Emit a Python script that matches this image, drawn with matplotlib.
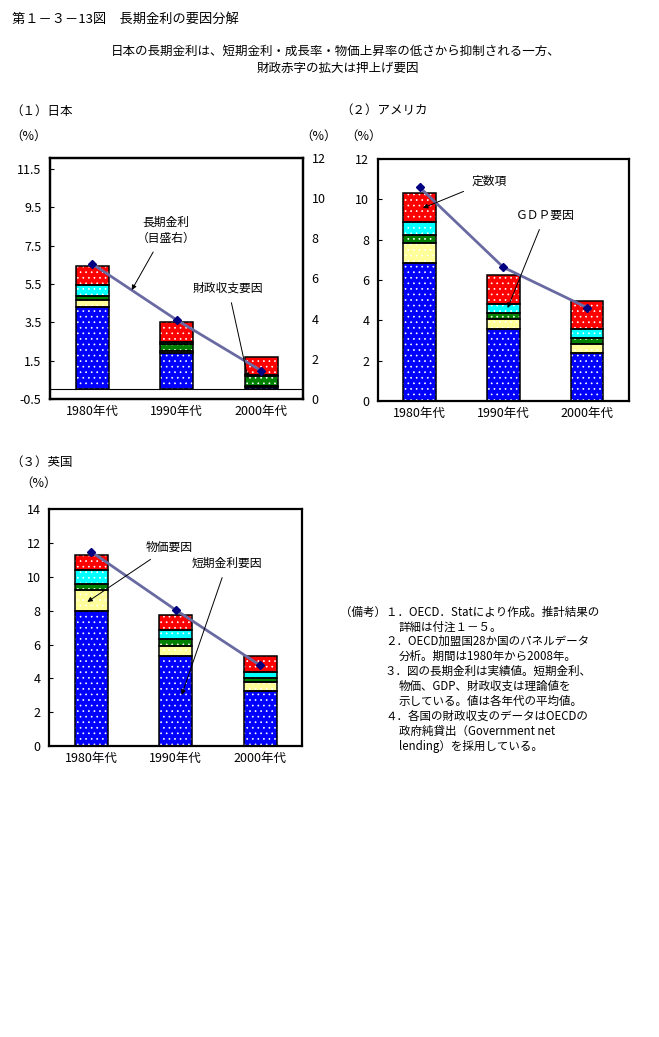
import matplotlib
matplotlib.use("Agg")
import matplotlib.pyplot as plt
import numpy as np

plt.rcParams['font.family'] = ['Noto Sans CJK JP', 'DejaVu Sans']
plt.rcParams['hatch.linewidth'] = 0.5

# ---------------- data ----------------
decades = ["1980年代", "1990年代", "2000年代"]
factor_names = ["短期金利要因", "物価要因", "財政収支要因", "GDP要因", "定数項"]
factor_colors = ["#0000FF", "#FFFF99", "#008000", "#00FFFF", "#FF0000"]

# Japan (left axis) contributions, bottom to top
jp_short = [4.28, 1.88, 0.13]
jp_price = [0.38, 0.10, 0.05]
jp_fiscal = [0.21, 0.37, 0.50]
jp_gdp = [0.56, 0.12, 0.05]
jp_const = [1.00, 1.03, 0.94]
jp_long = [6.72, 3.93, 1.41]   # right axis

us_short = [6.86, 3.55, 2.36]
us_price = [0.96, 0.50, 0.45]
us_fiscal = [0.41, 0.30, 0.30]
us_gdp = [0.63, 0.46, 0.44]
us_const = [1.44, 1.42, 1.39]
us_long = [10.60, 6.63, 4.63]

uk_short = [7.97, 5.30, 3.28]
uk_price = [1.24, 0.63, 0.50]
uk_fiscal = [0.36, 0.40, 0.22]
uk_gdp = [0.83, 0.51, 0.39]
uk_const = [0.91, 0.91, 0.93]
uk_long = [11.49, 8.05, 4.77]

jp_ticks_left = [-0.5, 1.5, 3.5, 5.5, 7.5, 9.5, 11.5]
jp_ticks_right = [0, 2, 4, 6, 8, 10, 12]
us_ticks = [0, 2, 4, 6, 8, 10, 12]
uk_ticks = [0, 2, 4, 6, 8, 10, 12, 14]

W, H = 659, 1037
fig = plt.figure(figsize=(W / 100, H / 100), dpi=100)


def fpos(l, t, r, b):
    return [l / W, 1 - b / H, (r - l) / W, (b - t) / H]


def style_axes(ax):
    for s in ax.spines.values():
        s.set_linewidth(1.6)
        s.set_color("black")
    ax.tick_params(axis='y', direction='in', length=3, width=0.8, labelsize=9, pad=6)
    ax.tick_params(axis='x', length=0, labelsize=9, pad=4)


def draw_bars(ax, comps):
    x = np.arange(len(decades))
    bottom = np.zeros(len(decades))
    for vals, col in zip(comps, factor_colors):
        vals = np.array(vals)
        ax.bar(x, vals, 0.39, bottom=bottom, color=col, edgecolor="white",
               hatch="...", linewidth=0, zorder=2)
        ax.bar(x, vals, 0.39, bottom=bottom, fill=False, edgecolor="black",
               linewidth=1.1, zorder=3)
        bottom = bottom + vals
    ax.set_xticks(x)
    ax.set_xticklabels(decades)
    ax.set_xlim(-0.5, 2.5)


def draw_line(ax, vals):
    ax.plot(np.arange(len(decades)), vals, color="#6A6AA3", lw=2.0, zorder=5,
            marker="D", markersize=4.5, markerfacecolor="#000080",
            markeredgecolor="#000080")


def note(ax, text, xy, xytext):
    ax.annotate(text, xy=xy, xytext=xytext, ha="center", va="center",
                fontsize=8.5, linespacing=1.3,
                arrowprops=dict(arrowstyle="-|>", color="black", lw=0.7,
                                mutation_scale=7, shrinkA=4, shrinkB=0),
                zorder=10)


# ---------------- Japan ----------------
ax1 = fig.add_axes(fpos(50, 157.7, 303.3, 399))
draw_bars(ax1, [jp_short, jp_price, jp_fiscal, jp_gdp, jp_const])
ax1.axhline(0, color="black", lw=0.8, zorder=4)
ax1.set_ylim(-0.5, 12.09)
ax1.set_yticks(jp_ticks_left)
ax1.set_yticklabels([f"{v:.1f}" for v in jp_ticks_left])
style_axes(ax1)
ax1b = ax1.twinx()
ax1b.set_ylim(0, 12)
ax1b.set_yticks(jp_ticks_right)
draw_line(ax1b, jp_long)
style_axes(ax1b)
ax1b.tick_params(axis='y', length=0, pad=6)
note(ax1b, "長期金利\n（目盛右）", (0.468, 5.42), (0.87, 8.41))
note(ax1b, "財政収支要因", (1.845, 1.04), (1.61, 5.52))

# ---------------- USA ----------------
ax2 = fig.add_axes(fpos(377.7, 159, 629, 401))
draw_bars(ax2, [us_short, us_price, us_fiscal, us_gdp, us_const])
draw_line(ax2, us_long)
ax2.set_ylim(0, 12)
ax2.set_yticks(us_ticks)
style_axes(ax2)
note(ax2, "定数項", (0.04, 9.57), (0.83, 10.91))
note(ax2, "ＧＤＰ要因", (1.051, 4.61), (1.50, 9.22))

# ---------------- UK ----------------
ax3 = fig.add_axes(fpos(49, 509.3, 302.3, 746))
draw_bars(ax3, [uk_short, uk_price, uk_fiscal, uk_gdp, uk_const])
draw_line(ax3, uk_long)
ax3.set_ylim(0, 14)
ax3.set_yticks(uk_ticks)
style_axes(ax3)
note(ax3, "物価要因", (-0.046, 8.52), (0.92, 11.77))
note(ax3, "短期金利要因", (1.072, 3.02), (1.61, 10.82))

# ---------------- texts ----------------
def ftext(x, y, s, size=9, ha="left", **kw):
    fig.text(x / W, 1 - y / H, s, fontsize=size, ha=ha, va="center", **kw)


ftext(12, 19, "第１－３－13図　長期金利の要因分解", size=9.5)
ftext(336, 51, "日本の長期金利は、短期金利・成長率・物価上昇率の低さから抑制される一方、", size=9, ha="center")
ftext(338, 68, "財政赤字の拡大は押上げ要因", size=9, ha="center")

ftext(10, 111, "（１）日本")
ftext(10, 136, "（%）")
ftext(300, 136, "（%）")
ftext(340, 110, "（２）アメリカ")
ftext(345, 136, "（%）")
ftext(10, 462, "（３）英国")
ftext(20, 483, "（%）")

notes = [
    (340, "（備考）１．OECD．Statにより作成。推計結果の"),
    (399, "詳細は付注１－５。"),
    (385, "２．OECD加盟国28か国のパネルデータ"),
    (399, "分析。期間は1980年から2008年。"),
    (385, "３．図の長期金利は実績値。短期金利、"),
    (399, "物価、GDP、財政収支は理論値を"),
    (399, "示している。値は各年代の平均値。"),
    (385, "４．各国の財政収支のデータはOECDの"),
    (399, "政府純貸出（Government net"),
    (399, "lending）を採用している。"),
]
for i, (x, s) in enumerate(notes):
    ftext(x, 612 + i * 14.9, s, size=8.3)

fig.savefig("out.png", dpi=100)
